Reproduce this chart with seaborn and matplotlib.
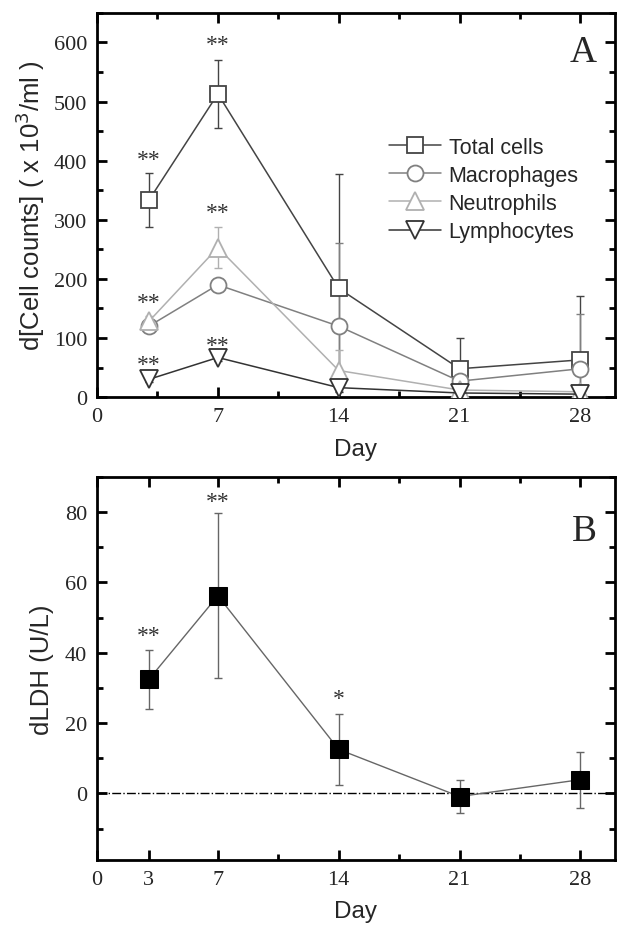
import numpy as np
import pandas as pd
import matplotlib
matplotlib.use("Agg")
import matplotlib.pyplot as plt
import seaborn as sns
from matplotlib.ticker import MultipleLocator, FixedLocator

# ---- data ----
days = [3, 7, 14, 21, 28]
series_names = ["Total cells", "Macrophages", "Neutrophils", "Lymphocytes"]
total_mean = [333, 513, 184, 48, 63]
total_err = [46, 57, 194, 52, 108]
macro_mean = [120, 190, 120, 27, 48]
macro_err = [8, 8, 141, 20, 93]
neutro_mean = [128, 253, 45, 12, 9]
neutro_err = [10, 35, 35, 10, 12]
lymph_mean = [30, 67, 16, 7, 5]
lymph_err = [5, 6, 8, 4, 3]
sig_A = [(3, 402, "**"), (7, 596, "**"), (3, 160, "**"), (7, 312, "**"), (3, 55, "**"), (7, 87, "**")]

ldh_mean = [32.4, 56.2, 12.5, -0.9, 3.9]
ldh_err = [8.4, 23.4, 10.0, 4.8, 8.0]
sig_B = [(3, 45, "**"), (7, 83, "**"), (14, 27, "*")]

sns.set_theme(style="ticks")
plt.rcParams["font.family"] = ["Liberation Serif", "DejaVu Serif"]
sans = ["Liberation Sans", "DejaVu Sans"]

fig = plt.figure(figsize=(6.18, 9.28), dpi=100)
axA = fig.add_axes([0.157, 0.571, 0.838, 0.414])
axB = fig.add_axes([0.157, 0.072, 0.838, 0.413])

colors = ["#444444", "#808080", "#b0b0b0", "#333333"]
markers = ["s", "o", "^", "v"]
msizes = [11.5, 11.5, 12.5, 12.5]
means = [total_mean, macro_mean, neutro_mean, lymph_mean]
errs = [total_err, macro_err, neutro_err, lymph_err]

for name, m, e, c, mk, ms in zip(series_names, means, errs, colors, markers, msizes):
    axA.errorbar(days, m, yerr=e, fmt="none", ecolor=c, elinewidth=1, capsize=3, capthick=1, zorder=2)
    df = pd.DataFrame({"Day": days, "value": m})
    sns.lineplot(data=df, x="Day", y="value", ax=axA, color=c, linewidth=1.1,
                 marker=mk, markersize=ms, markerfacecolor="white", markeredgecolor=c,
                 markeredgewidth=1.3, label=name, zorder=3)

for x, y, s in sig_A:
    axA.text(x, y, s, ha="center", va="center", fontsize=17, color="#333333")

axA.set_xlim(0, 30)
axA.set_ylim(0, 650)
axA.xaxis.set_major_locator(FixedLocator([0, 7, 14, 21, 28]))
axA.xaxis.set_minor_locator(FixedLocator([3.5, 10.5, 17.5, 24.5]))
axA.yaxis.set_major_locator(MultipleLocator(100))
axA.yaxis.set_minor_locator(MultipleLocator(50))
axA.set_xlabel("Day", fontsize=17.5, family=sans, labelpad=9)
axA.set_ylabel("d[Cell counts] ( x 10$^3$/ml )", fontsize=18.5, family=sans, labelpad=5)
axA.text(0.965, 0.90, "A", transform=axA.transAxes, fontsize=27, ha="right", va="center")

leg = axA.legend(loc="upper left", bbox_to_anchor=(0.548, 0.70), frameon=False,
                 prop={"family": sans, "size": 15.5}, handlelength=2.4,
                 handletextpad=0.35, labelspacing=0.33, borderaxespad=0)

# ---- panel B ----
dfB = pd.DataFrame({"Day": days, "LDH": ldh_mean})
axB.axhline(0, color="black", linestyle="-.", linewidth=1, zorder=1)
axB.errorbar(days, ldh_mean, yerr=ldh_err, fmt="none", ecolor="#666666",
             elinewidth=1, capsize=3, capthick=1, zorder=2)
sns.lineplot(data=dfB, x="Day", y="LDH", marker="s", markersize=12.5, color="#666666",
             markerfacecolor="black", markeredgecolor="black", linewidth=1, ax=axB, zorder=3)
for x, y, s in sig_B:
    axB.text(x, y, s, ha="center", va="center", fontsize=17, color="#333333")

axB.set_xlim(0, 30)
axB.set_ylim(-19, 90)
axB.xaxis.set_major_locator(FixedLocator([0, 3, 7, 14, 21, 28]))
axB.xaxis.set_minor_locator(FixedLocator([10.5, 17.5, 24.5]))
axB.yaxis.set_major_locator(MultipleLocator(20))
axB.yaxis.set_minor_locator(MultipleLocator(10))
axB.set_xlabel("Day", fontsize=17.5, family=sans, labelpad=8)
axB.set_ylabel("dLDH (U/L)", fontsize=18.5, family=sans, labelpad=8)
axB.text(0.965, 0.86, "B", transform=axB.transAxes, fontsize=27, ha="right", va="center")

for ax in (axA, axB):
    for sp in ax.spines.values():
        sp.set_visible(True)
        sp.set_linewidth(2)
        sp.set_color("black")
    ax.tick_params(which="both", direction="in", top=True, right=True,
                   labeltop=False, labelright=False, width=2, color="black")
    ax.tick_params(which="major", length=7, labelsize=16, pad=7)
    ax.tick_params(which="minor", length=4)
    for lab in ax.get_xticklabels() + ax.get_yticklabels():
        lab.set_family(["Liberation Serif", "DejaVu Serif"])
    ax.grid(False)

fig.savefig("out.png", dpi=100, facecolor="white")
